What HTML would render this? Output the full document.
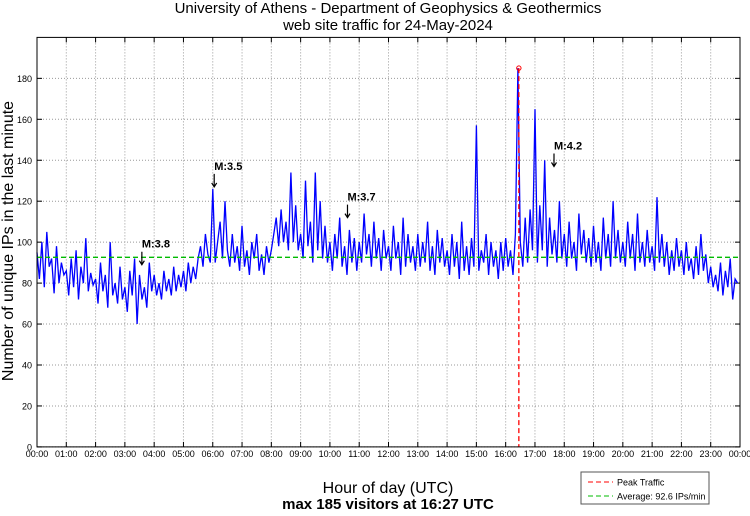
<!DOCTYPE html>
<html><head><meta charset="utf-8"><style>
body{margin:0;background:#fff;}
svg text{font-family:"Liberation Sans",sans-serif;}
</style></head><body>
<svg id="chart" width="750" height="511" xmlns="http://www.w3.org/2000/svg">
<rect width="750" height="511" fill="#fff"/>
<text x="388" y="13" font-size="15" text-anchor="middle">University of Athens - Department of Geophysics &amp; Geothermics</text>
<text x="388" y="30" font-size="15" text-anchor="middle">web site traffic for 24-May-2024</text>
<g id="grid"></g>
<g id="series"></g>
<g id="over"></g>
<rect x="37" y="37.4" width="703" height="409.5" fill="none" stroke="#000" stroke-width="1"/>
<text transform="translate(13,241) rotate(-90)" font-size="16" text-anchor="middle">Number of unique IPs in the last minute</text>
<text x="388" y="493" font-size="16" text-anchor="middle">Hour of day (UTC)</text>
<text x="388" y="509" font-size="15" font-weight="bold" text-anchor="middle">max 185 visitors at 16:27 UTC</text>
<g>
<rect x="581" y="472" width="128" height="32" fill="#fff" stroke="#555"/>
<line x1="588" y1="482" x2="613" y2="482" stroke="#f00" stroke-dasharray="5,3"/>
<text x="617" y="485.5" font-size="9">Peak Traffic</text>
<line x1="588" y1="496" x2="613" y2="496" stroke="#0b0" stroke-dasharray="5,3"/>
<text x="617" y="499.5" font-size="9">Average: 92.6 IPs/min</text>
</g>
</svg>
<script>
const values = [
95,82,100,78,105,88,92,75,98,80,90,84,
86,74,92,78,96,72,88,80,102,76,85,79,
82,70,90,76,84,68,100,74,80,70,88,72,
78,66,86,74,92,60,84,72,78,68,90,76,
84,74,80,72,86,76,82,74,88,76,84,78,
86,76,90,80,88,82,92,98,88,104,94,90,
126,90,100,110,92,120,96,88,104,90,98,86,
108,88,96,84,100,92,104,86,94,84,98,90,
96,104,112,98,116,100,110,96,134,100,118,96,
104,92,130,98,110,90,134,96,120,92,108,90,
100,86,104,92,112,88,98,84,106,90,102,86,
100,90,114,94,104,88,110,92,102,86,106,92,
98,86,108,92,100,84,112,88,104,90,98,86,
104,88,100,90,110,86,98,84,106,90,102,88,
96,84,104,88,100,82,110,86,98,84,102,88,
157,86,96,90,104,84,100,88,96,82,100,86,
102,88,96,84,104,185,100,88,112,90,116,96,
165,90,118,96,140,88,112,94,106,90,120,92,
104,88,110,92,100,86,114,94,106,90,102,88,
108,90,100,86,112,92,104,88,120,92,106,90,
100,88,110,92,104,86,114,90,100,88,106,90,
98,86,122,90,104,88,100,84,96,86,102,88,
96,84,100,86,92,82,98,84,104,86,94,80,
88,78,84,76,90,74,86,78,92,72,82,80];
const stepMinutes = 5;
const yTicks = [0,20,40,60,80,100,120,140,160,180];
const xTickLabels = ["00:00","01:00","02:00","03:00","04:00","05:00","06:00","07:00","08:00","09:00","10:00","11:00","12:00","13:00","14:00","15:00","16:00","17:00","18:00","19:00","20:00","21:00","22:00","23:00","00:00"];
const average = 92.6;
const peakValue = 185;
const peakHour = 16.45;
const quakeLabels = ["M:3.8","M:3.5","M:3.7","M:4.2"];
const quakeHours = [3.58,6.05,10.6,17.65];
const quakeValues = [88,126,111,136];

const NS="http://www.w3.org/2000/svg";
const X0=37,X1=740,Y0=446.9,Y1=37.4;
const x=h=>X0+(X1-X0)*h/24;
const y=v=>Y0-(Y0-Y1)*v/200;
function mk(tag,attrs,parent){const e=document.createElementNS(NS,tag);for(const k in attrs)e.setAttribute(k,attrs[k]);parent.appendChild(e);return e;}
const grid=document.getElementById('grid');
yTicks.forEach(v=>{
  const g=mk('line',{x1:X0,x2:X1,y1:y(v),y2:y(v),stroke:'#999','stroke-dasharray':'1,2'},grid);
  
  
  mk('line',{x1:X0,x2:X0+5,y1:y(v),y2:y(v),stroke:'#000'},grid);
  mk('line',{x1:X1-5,x2:X1,y1:y(v),y2:y(v),stroke:'#000'},grid);
  const t=mk('text',{x:X0-5,y:y(v)+3.5,'font-size':9,'text-anchor':'end'},grid);
  t.textContent=v;
  
  
});
xTickLabels.forEach((lab,i)=>{
  const g=mk('line',{x1:x(i),x2:x(i),y1:Y1,y2:Y0,stroke:'#999','stroke-dasharray':'1,2'},grid);
  
  
  mk('line',{x1:x(i),x2:x(i),y1:Y0-5,y2:Y0,stroke:'#000'},grid);
  mk('line',{x1:x(i),x2:x(i),y1:Y1,y2:Y1+5,stroke:'#000'},grid);
  const t=mk('text',{x:x(i),y:457,'font-size':9,'text-anchor':'middle'},grid);
  t.textContent=lab;
  
  
});
const ser=document.getElementById('series');
const pts=values.map((v,i)=>x(i*stepMinutes/60).toFixed(1)+','+y(v).toFixed(1)).join(' ');
const pl=mk('polyline',{points:pts,fill:'none',stroke:'#0000ff','stroke-width':1.3},ser);


const ov=document.getElementById('over');
const av=mk('line',{x1:X0,x2:X1,y1:y(average),y2:y(average),stroke:'#00bb00','stroke-width':1.3,'stroke-dasharray':'5,3'},ov);


const pk=mk('line',{x1:x(peakHour),x2:x(peakHour),y1:y(peakValue),y2:Y0,stroke:'#f00','stroke-width':1.3,'stroke-dasharray':'5,3'},ov);


const pm=mk('circle',{cx:x(peakHour),cy:y(peakValue),r:2.2,fill:'none',stroke:'#f00'},ov);


quakeLabels.forEach((lab,i)=>{
  const ax=x(quakeHours[i]),tip=y(quakeValues[i])-2;
  const a=mk('path',{d:`M${ax},${tip-13}V${tip}M${ax-2.5},${tip-4}L${ax},${tip}L${ax+2.5},${tip-4}`,stroke:'#000',fill:'none','stroke-width':1.2},ov);
  
  
  const t=mk('text',{x:ax,y:tip-17,'font-size':11,'font-weight':'bold'},ov);
  t.textContent=lab;
  
  
});
</script>
</body></html>
